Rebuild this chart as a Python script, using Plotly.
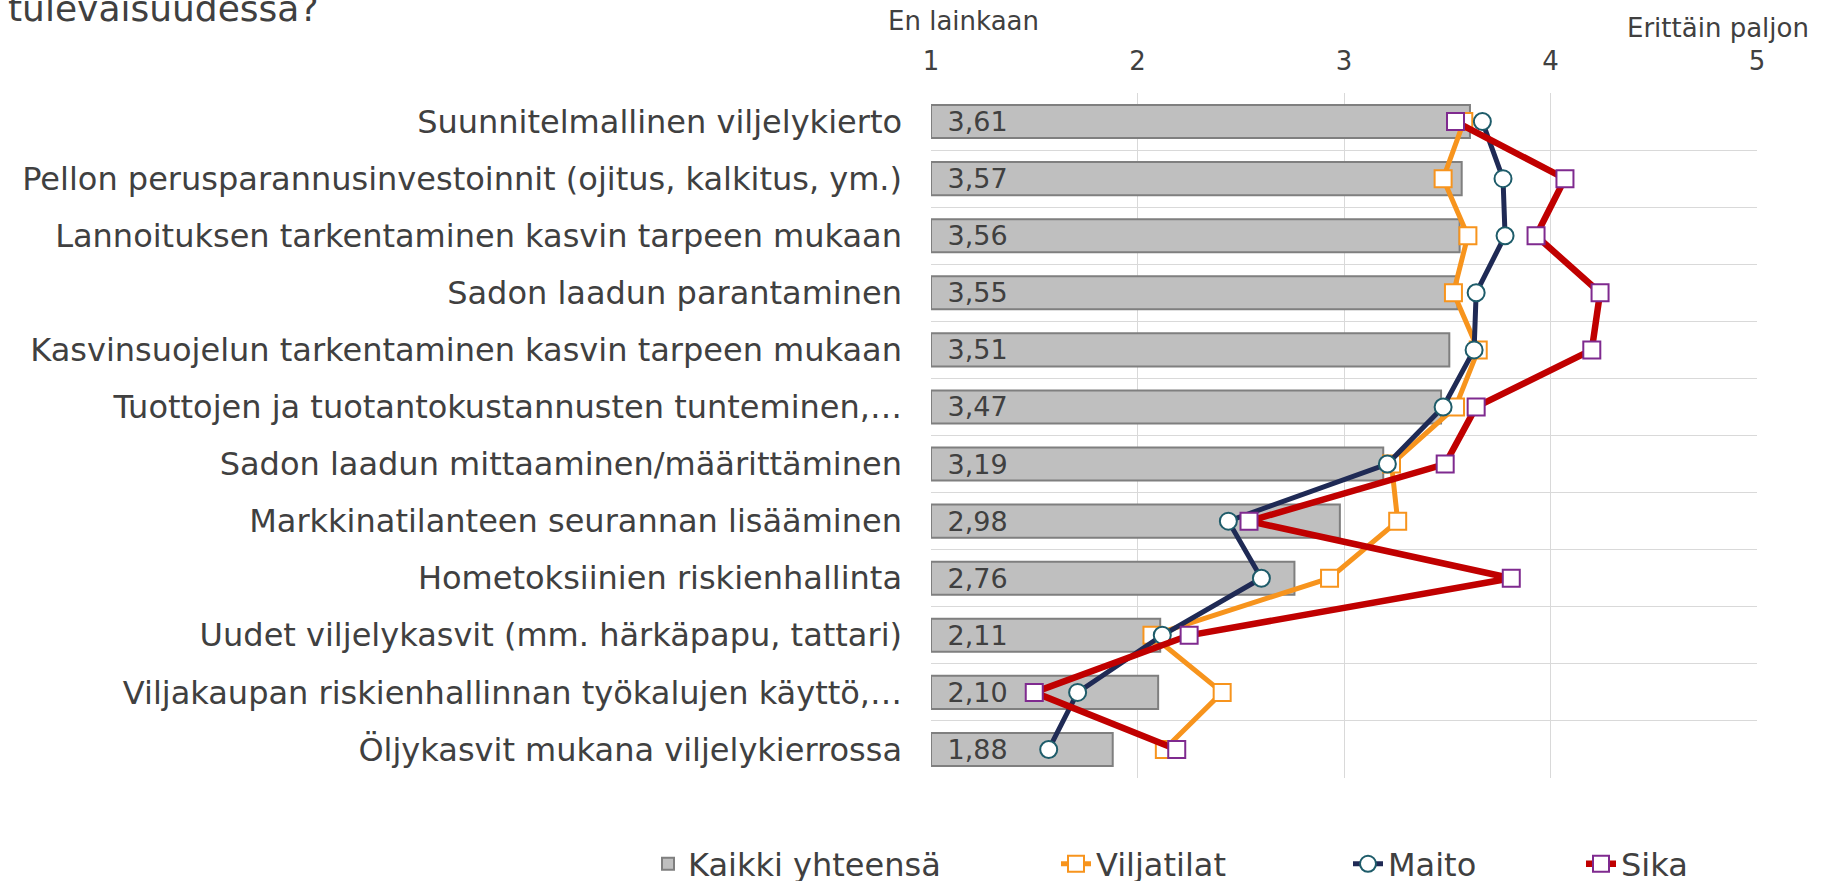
import plotly.graph_objects as go

categories = [
    "Suunnitelmallinen viljelykierto",
    "Pellon perusparannusinvestoinnit (ojitus, kalkitus, ym.)",
    "Lannoituksen tarkentaminen kasvin tarpeen mukaan",
    "Sadon laadun parantaminen",
    "Kasvinsuojelun tarkentaminen kasvin tarpeen mukaan",
    "Tuottojen ja tuotantokustannusten tunteminen,…",
    "Sadon laadun mittaaminen/määrittäminen",
    "Markkinatilanteen seurannan lisääminen",
    "Hometoksiinien riskienhallinta",
    "Uudet viljelykasvit (mm. härkäpapu, tattari)",
    "Viljakaupan riskienhallinnan työkalujen käyttö,…",
    "Öljykasvit mukana viljelykierrossa",
]
kaikki = [3.61, 3.57, 3.56, 3.55, 3.51, 3.47, 3.19, 2.98, 2.76, 2.11, 2.10, 1.88]
viljatilat = [3.58, 3.48, 3.60, 3.53, 3.65, 3.54, 3.23, 3.26, 2.93, 2.07, 2.41, 2.13]
maito = [3.67, 3.77, 3.78, 3.64, 3.63, 3.48, 3.21, 2.44, 2.60, 2.12, 1.71, 1.57]
sika = [3.54, 4.07, 3.93, 4.24, 4.20, 3.64, 3.49, 2.54, 3.81, 2.25, 1.50, 2.19]
x_ticks = [1, 2, 3, 4, 5]
series_names = ["Kaikki yhteensä", "Viljatilat", "Maito", "Sika"]

FONT = "DejaVu Sans, Verdana, sans-serif"
TXT = "#404040"
W, H = 1831, 881
L, R, T, B = 931, 1757, 93, 778


def px2x(px):
    return (px - L) / (R - L)


def px2y(py):
    return (B - py) / (B - T)


base = 1
bar_len = [v - base for v in kaikki]
bar_text = ["\u2002" + f"{v:.2f}".replace(".", ",") for v in kaikki]

fig = go.Figure()
fig.add_trace(go.Bar(
    y=categories, x=bar_len, base=base, orientation="h", name=series_names[0],
    marker=dict(color="#BFBFBF", line=dict(color="#7F7F7F", width=2)),
    width=0.58, text=bar_text, textposition="inside", insidetextanchor="start",
    constraintext="none", textfont=dict(size=27, color=TXT, family=FONT),
    legend="legend",
))
fig.add_trace(go.Scatter(
    y=categories, x=viljatilat, mode="lines+markers", name=series_names[1],
    line=dict(color="#F7941D", width=5),
    marker=dict(symbol="square", size=17, color="white", line=dict(color="#F7941D", width=2)),
    legend="legend2",
))
fig.add_trace(go.Scatter(
    y=categories, x=maito, mode="lines+markers", name=series_names[2],
    line=dict(color="#1F2A55", width=5),
    marker=dict(symbol="circle", size=17, color="white", line=dict(color="#1E5C6A", width=2)),
    legend="legend3",
))
fig.add_trace(go.Scatter(
    y=categories, x=sika, mode="lines+markers", name=series_names[3],
    line=dict(color="#C00000", width=6.5),
    marker=dict(symbol="square", size=17, color="white", line=dict(color="#7F2A8F", width=2)),
    legend="legend4",
))

leg_common = dict(orientation="h", yanchor="middle", y=px2y(864), xanchor="left",
                  font=dict(size=32, color=TXT, family=FONT), bgcolor="rgba(0,0,0,0)")
text_starts = [690, 1098, 1390, 1623]

fig.update_layout(
    width=W, height=H,
    margin=dict(l=L, r=W - R, t=T, b=H - B, autoexpand=False),
    paper_bgcolor="white", plot_bgcolor="white",
    font=dict(family=FONT, color=TXT),
    showlegend=True,
    legend=dict(leg_common, x=px2x(text_starts[0] - 42)),
    legend2=dict(leg_common, x=px2x(text_starts[1] - 42)),
    legend3=dict(leg_common, x=px2x(text_starts[2] - 42)),
    legend4=dict(leg_common, x=px2x(text_starts[3] - 42)),
    xaxis=dict(
        range=[1, 5], side="top", tickvals=x_ticks, ticktext=[str(t) for t in x_ticks],
        showgrid=True, gridcolor="#D9D9D9", gridwidth=1, zeroline=False,
        ticks="outside", ticklen=12, tickcolor="rgba(0,0,0,0)", automargin=False,
        tickfont=dict(size=26, color=TXT, family=FONT), showline=False,
    ),
    yaxis=dict(
        type="category", categoryorder="array", categoryarray=categories,
        range=[len(categories) - 0.5, -0.5], tickson="boundaries", showgrid=True,
        gridcolor="#D9D9D9", gridwidth=1, ticks="", ticklabelstandoff=28,
        tickfont=dict(size=32, color=TXT, family=FONT), automargin=False, showline=False,
    ),
    annotations=[
        dict(text="tulevaisuudessa?", x=px2x(6), y=px2y(8), xref="paper", yref="paper",
             xanchor="left", yanchor="middle", showarrow=False,
             font=dict(size=36, color=TXT, family=FONT)),
        dict(text="En lainkaan", x=px2x(963), y=px2y(21), xref="paper", yref="paper",
             xanchor="center", yanchor="middle", showarrow=False,
             font=dict(size=26, color=TXT, family=FONT)),
        dict(text="Erittäin paljon", x=px2x(1718), y=px2y(28), xref="paper", yref="paper",
             xanchor="center", yanchor="middle", showarrow=False,
             font=dict(size=26, color=TXT, family=FONT)),
    ],
)

fig.write_html(
    "out.html",
    config={"displayModeBar": False},
    post_script="document.body.style.margin='0px';document.body.style.overflow='hidden';",
)
